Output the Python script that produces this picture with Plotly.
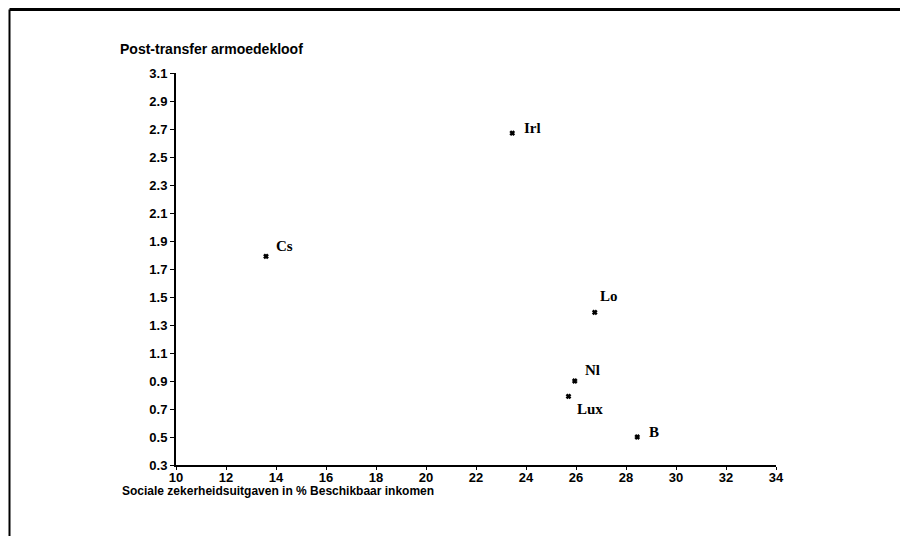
import plotly.graph_objects as go

countries = ["Irl", "Cs", "Lo", "Nl", "Lux", "B"]
uitgaven = [23.45, 13.6, 26.75, 25.95, 25.7, 28.45]
armoedekloof = [2.67, 1.79, 1.39, 0.9, 0.79, 0.5]

x_ticks = list(range(10, 35, 2))
y_ticks = [0.3, 0.5, 0.7, 0.9, 1.1, 1.3, 1.5, 1.7, 1.9, 2.1, 2.3, 2.5, 2.7, 2.9, 3.1]

# label offsets (pixels) relative to each marker
label_dx = [10, 8, 3, 8, 6, 10]
label_dy = [5, 10, 16, 11, -13, 5]

W, H = 908, 536
OFF = 8  # page offset of the figure
L, T = 176 - OFF, 73 - OFF
pw, ph = 600, 392
R, B = W - L - pw, H - T - ph

def px_x(p):
    return (p - OFF - L) / pw

def px_y(p):
    return (H - B - (p - OFF)) / ph

fig = go.Figure()
fig.add_trace(go.Scatter(
    x=uitgaven, y=armoedekloof, mode="markers",
    marker=dict(symbol="x-thin", size=4, color="black", line=dict(width=2.5, color="black")),
    cliponaxis=False, showlegend=False, hoverinfo="skip",
))

annots = []
for c, xv, yv, dx, dy in zip(countries, uitgaven, armoedekloof, label_dx, label_dy):
    annots.append(dict(text=c, x=xv, y=yv, xref="x", yref="y", showarrow=False,
                       xanchor="left", yanchor="middle", xshift=dx, yshift=dy,
                       font=dict(family="Liberation Serif", size=15, color="black", weight="bold")))

annots.append(dict(text="Sociale zekerheidsuitgaven in % Beschikbaar inkomen",
                   xref="paper", yref="paper", x=px_x(120), y=px_y(491),
                   xanchor="left", yanchor="middle", showarrow=False,
                   font=dict(family="Liberation Sans", size=12, color="black", weight="bold")))

axis_font = dict(family="Liberation Sans", size=13, color="black", weight="bold")
fig.update_xaxes(range=[10, 34], tickvals=x_ticks, ticktext=[str(v) for v in x_ticks],
                 showgrid=False, zeroline=False, showline=True, linecolor="black", linewidth=2,
                 ticks="outside", ticklen=3, tickwidth=1, tickcolor="black", tickfont=axis_font,
                 ticklabelstandoff=-4)
fig.update_yaxes(range=[0.3, 3.1], tickvals=y_ticks, ticktext=[f"{v:.1f}" for v in y_ticks],
                 showgrid=False, zeroline=False, showline=True, linecolor="black", linewidth=2,
                 ticks="outside", ticklen=4, tickwidth=1, tickcolor="black", tickfont=axis_font)

# frame lines of the scanned page (kept inside the figure area)
fx0, fy0 = OFF + 1.5, OFF + 1.5
fig.update_layout(
    width=W, height=H, plot_bgcolor="white", paper_bgcolor="white",
    margin=dict(l=L, r=R, t=T, b=B),
    title=dict(text="Post-transfer armoedekloof", x=(120 - OFF) / W, y=1 - (49 - OFF) / H,
               xanchor="left", yanchor="middle",
               font=dict(family="Liberation Sans", size=14, color="black", weight="bold")),
    annotations=annots,
    shapes=[
        dict(type="line", xref="paper", yref="paper", x0=px_x(fx0), x1=px_x(920), y0=px_y(fy0), y1=px_y(fy0),
             line=dict(color="black", width=3)),
        dict(type="line", xref="paper", yref="paper", x0=px_x(fx0), x1=px_x(fx0), y0=px_y(fy0), y1=px_y(545),
             line=dict(color="black", width=2)),
    ],
)

fig.write_html("out.html")
